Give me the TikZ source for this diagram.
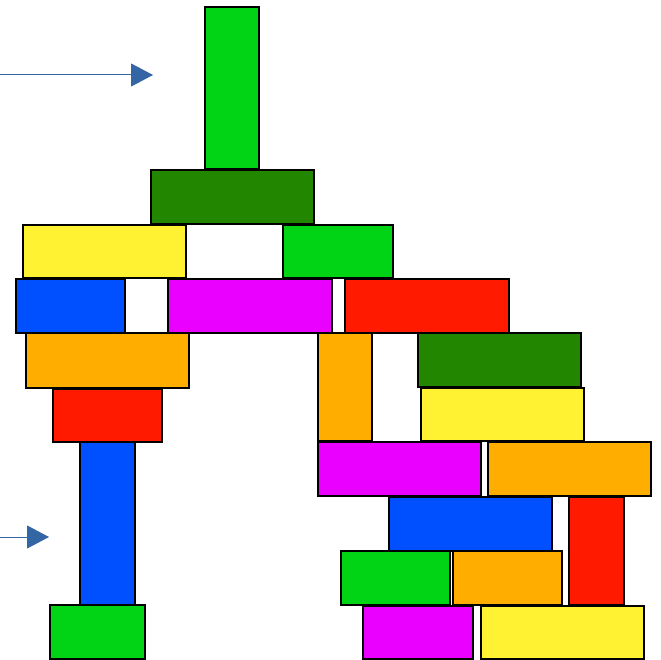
\documentclass[tikz,border=0pt]{standalone}
\usepackage{tikz}
\usetikzlibrary{arrows.meta}
\definecolor{bGreen}{RGB}{0,212,20}
\definecolor{bDark}{RGB}{34,134,0}
\definecolor{bYellow}{RGB}{255,242,50}
\definecolor{bBlue}{RGB}{0,80,255}
\definecolor{bMagenta}{RGB}{234,0,255}
\definecolor{bRed}{RGB}{255,26,0}
\definecolor{bOrange}{RGB}{255,174,0}
\definecolor{arrowcol}{RGB}{52,101,164}

\begin{document}
\begin{tikzpicture}[x=1pt, y=-1pt,
    block/.style={draw=black, line width=1.6pt, line join=miter},
    pointer/.style={arrowcol, line width=1pt, -{Triangle[length=22pt, width=23pt]}}]
    \useasboundingbox (0,0) rectangle (661,660);
    % --- left tower, top down ---
    \draw[block, fill=bGreen]   (205,7)   rectangle (259,169);
    \draw[block, fill=bDark]    (151,170) rectangle (314,224);
    \draw[block, fill=bYellow]  (23,225)  rectangle (186,278);
    \draw[block, fill=bGreen]   (283,225) rectangle (393,278);
    \draw[block, fill=bBlue]    (16,279)  rectangle (125,333);
    \draw[block, fill=bMagenta] (168,279) rectangle (332,333);
    \draw[block, fill=bRed]     (345,279) rectangle (509,333);
    \draw[block, fill=bOrange]  (26,333)  rectangle (189,388);
    \draw[block, fill=bRed]     (53,389)  rectangle (162,442);
    \draw[block, fill=bBlue]    (80,442)  rectangle (135,605);
    \draw[block, fill=bGreen]   (50,605)  rectangle (145,659);
    % --- right stack ---
    \draw[block, fill=bOrange]  (318,333) rectangle (372,441);
    \draw[block, fill=bDark]    (418,333) rectangle (581,387);
    \draw[block, fill=bYellow]  (421,388) rectangle (584,441);
    \draw[block, fill=bMagenta] (318,442) rectangle (481,496);
    \draw[block, fill=bOrange]  (488,442) rectangle (651,496);
    \draw[block, fill=bBlue]    (389,497) rectangle (552,551);
    \draw[block, fill=bRed]     (569,497) rectangle (624,605);
    \draw[block, fill=bGreen]   (341,551) rectangle (450,605);
    \draw[block, fill=bOrange]  (453,551) rectangle (562,605);
    \draw[block, fill=bMagenta] (363,606) rectangle (473,659);
    \draw[block, fill=bYellow]  (481,606) rectangle (644,659);
    % --- pointers ---
    \coordinate (topstart) at (0,75);
    \coordinate (toptip) at (153,75);
    \coordinate (lowstart) at (0,537);
    \coordinate (lowtip) at (49,537);
    \draw[pointer] (topstart) -- (toptip);
    \draw[pointer] (lowstart) -- (lowtip);
\end{tikzpicture}
\end{document}
